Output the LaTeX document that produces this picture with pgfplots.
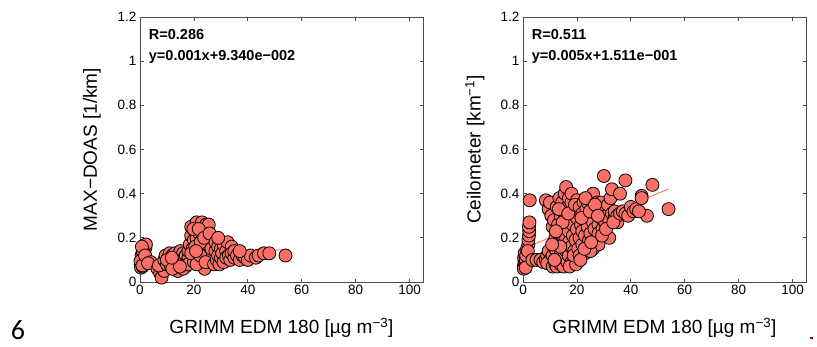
\documentclass[border=0pt]{standalone}
\usepackage{pgfplots}
\pgfplotsset{compat=1.18}
\usepackage{fontspec}
\setmainfont{Liberation Sans}
\newfontfamily\calibri{Carlito}

\definecolor{mk}{RGB}{250,112,102}
\definecolor{fitred}{RGB}{245,125,115}
\definecolor{axgray}{gray}{0.3}

\tikzset{note/.style={anchor=west, font=\bfseries\fontsize{14.5}{16}\selectfont}}

\pgfplotsset{
  scat/.style={
    width=283pt, height=265pt, scale only axis,
    anchor=south west,
    xmin=0, xmax=105, ymin=0, ymax=1.2,
    xtick={0,20,40,60,80,100},
    ytick={0,0.2,0.4,0.6,0.8,1,1.2},
    tick align=inside, major tick length=3.5pt,
    axis line style={axgray, line width=0.9pt},
    every tick/.style={axgray, line width=0.8pt},
    tick label style={font=\fontsize{13.5}{15}\selectfont},
    /pgf/number format/assume math mode=true,
    label style={font=\fontsize{19}{22}\selectfont},
    xlabel={GRIMM EDM 180 [µg m\textsuperscript{−3}]},
    x label style={at={(axis description cs:0.5,-0.174)}, anchor=center},
    y label style={at={(axis description cs:-0.17,0.5)}, anchor=center},
    clip=false,
  },
  pts/.style={only marks, mark=*, mark size=6.5pt,
    mark options={fill=mk, draw=black, line width=0.8pt}},
  fitline/.style={fitred, line width=1pt, no marks},
}

\begin{document}
\begin{tikzpicture}
\useasboundingbox (0pt,0pt) rectangle (817pt,346pt);

% MAX-DOAS versus GRIMM
\begin{axis}[scat, at={(140pt,64pt)}, ylabel={MAX−DOAS [1/km]}]
\addplot[fitline] coordinates {(0,0.0934) (54,0.1474)};
\addplot[pts] coordinates {
(0.3,0.08)(0.5,0.10)(0.4,0.065)(0.8,0.09)(1.0,0.07)(0.6,0.12)(1.2,0.11)
(1.5,0.145)(1.8,0.16)(2.0,0.155)(2.2,0.17)(1.6,0.13)(0.2,0.095)(0.9,0.075)
(1.0,0.14)(0.7,0.16)(1.9,0.12)
(4,0.09)(3,0.085)
(6.5,0.06)(7.5,0.04)(8,0.02)(8.5,0.06)(9,0.05)(7,0.075)
(9,0.1)(9.5,0.12)(10,0.08)(10.5,0.11)(11,0.13)(11,0.09)(11.5,0.07)(12,0.1)
(12,0.12)(12.5,0.08)(13,0.11)(13,0.13)(13.5,0.06)(13.5,0.09)(14,0.05)(14,0.12)
(14.5,0.1)(15,0.08)(15,0.12)(15,0.14)(15.5,0.1)(16,0.09)(16,0.13)(16.5,0.11)
(17,0.07)(17,0.12)(17.5,0.09)(18,0.11)(18,0.14)(10,0.1)(12,0.06)(16,0.06)
(17.8,0.08)(14.8,0.07)(11.8,0.11)
(18.5,0.17)(19,0.21)(19,0.25)(19.5,0.15)(20,0.19)(20,0.12)(20,0.09)(20.5,0.23)
(21,0.17)(21,0.2)(21,0.27)(21.5,0.13)(22,0.22)(22,0.15)(22,0.1)(22.5,0.25)
(23,0.19)(23,0.27)(23,0.08)(23.5,0.13)(24,0.23)(24,0.17)(24,0.06)(24.5,0.26)
(25,0.21)(25,0.15)(25,0.11)(25.5,0.26)(26,0.19)(26,0.13)(26,0.09)(27,0.16)
(27,0.11)(19,0.13)(20.5,0.16)(22.5,0.18)(24.5,0.12)(21,0.08)
(19.8,0.24)(21.8,0.24)(23.8,0.2)(25.8,0.22)(22.3,0.12)(24.3,0.09)(26.5,0.15)(20.8,0.14)
(27.5,0.08)(28,0.14)(28,0.18)(28.5,0.1)(29,0.16)(29,0.12)(29.5,0.08)(30,0.15)
(30,0.11)(30.5,0.13)(31,0.09)(31,0.17)(32,0.14)(32,0.11)(32.5,0.18)(33,0.12)
(33.5,0.1)(34,0.16)(34,0.13)(35,0.11)(35,0.14)(29,0.2)
(36,0.12)(37,0.1)(38,0.12)(39,0.11)(40,0.1)(41,0.12)(43,0.11)(44,0.12)
(46,0.13)(48,0.13)(54,0.12)(37,0.14)
};
\node[note] at (axis cs:2,1.12) {R=0.286};
\node[note] at (axis cs:2,1.02) {y=0.001x+9.340e−002};
\end{axis}

% Ceilometer versus GRIMM
\begin{axis}[scat, at={(523pt,64pt)}, ylabel={Ceilometer [km\textsuperscript{−1}]}]
\addplot[fitline] coordinates {(0,0.1511) (54,0.4211)};
\addplot[pts] coordinates {
(0.3,0.07)(0.5,0.09)(0.4,0.11)(0.8,0.08)(1,0.1)(0.6,0.13)(1.2,0.12)(0.3,0.06)
(1.5,0.15)(2,0.17)(2,0.19)(2.2,0.21)(2.3,0.23)(2.2,0.25)(2.4,0.27)(1.8,0.14)
(2.5,0.37)(1,0.065)
(3.5,0.1)(5,0.1)(6.5,0.1)(7.5,0.09)(8.5,0.1)(9,0.12)(9.5,0.14)(8.5,0.37)
(9.5,0.33)(10,0.36)(10,0.1)(9,0.085)
(10.5,0.3)(11,0.07)(11,0.12)(11,0.25)(11.5,0.28)(12,0.08)(12,0.15)(12,0.2)
(12.5,0.07)(12.5,0.34)(13,0.1)(13,0.18)(13,0.26)(13.5,0.38)(14,0.08)(14,0.13)
(14,0.22)(14,0.3)(14.5,0.36)(15,0.07)(15,0.11)(15,0.17)(15,0.25)(15.5,0.31)
(15.5,0.4)(16,0.43)(16,0.14)(16,0.2)(16,0.27)(16.5,0.09)(16.5,0.34)(17,0.38)
(17,0.12)(17,0.18)(17,0.23)(17.5,0.29)(18,0.09)(18,0.16)(18,0.36)(18,0.4)
(18.5,0.21)(18.5,0.26)(19,0.11)(19,0.32)(19,0.14)(19.5,0.19)(20,0.09)(20,0.24)
(20,0.29)(20,0.37)
(13.3,0.33)(14.7,0.27)(16.8,0.31)(19.3,0.35)(11.7,0.1)(13.8,0.16)(17.3,0.07)
(19.7,0.08)(18.8,0.12)(12.2,0.23)(10.8,0.17)
(20.5,0.15)(21,0.12)(21,0.2)(21,0.34)(21.5,0.26)(22,0.17)(22,0.23)(22,0.31)
(22.5,0.36)(23,0.13)(23,0.28)(23,0.21)(23.5,0.33)(24,0.16)(24,0.25)(24,0.36)
(24.5,0.19)(25,0.29)(25,0.22)(25.5,0.33)(26,0.15)(26,0.4)(26,0.27)(26.5,0.24)
(27,0.19)(27,0.31)(27.5,0.36)(28,0.26)(28,0.22)(28.5,0.33)(29,0.29)(29,0.36)
(29.5,0.24)(30,0.48)(30,0.32)(30.5,0.27)(31,0.3)(31.5,0.35)(32,0.2)(32,0.28)
(32.5,0.38)(33,0.42)(33,0.31)(34,0.29)(34,0.32)(35,0.27)(35,0.3)(36,0.4)
(28,0.17)(25,0.14)
(21.7,0.29)(23.2,0.38)(24.8,0.32)(26.7,0.35)(27.8,0.3)(21.3,0.1)(22.8,0.15)
(25.3,0.18)(29.3,0.21)(30.8,0.24)(33.5,0.27)
(36,0.31)(37,0.32)(38,0.46)(38,0.31)(39,0.3)(40,0.34)(41,0.32)(42,0.33)
(44,0.39)(44,0.38)(46,0.3)(48,0.44)(54,0.33)(43,0.32)
};
\node[note] at (axis cs:2,1.12) {R=0.511};
\node[note] at (axis cs:2,1.02) {y=0.005x+1.511e−001};
\end{axis}

% panel number and page mark
\node[font=\calibri\fontsize{28}{30}\selectfont, anchor=base, inner sep=0pt] at (18pt,7pt) {6};
\fill[red!60!black] (810pt,7pt) rectangle (813pt,9pt);
\end{tikzpicture}
\end{document}
